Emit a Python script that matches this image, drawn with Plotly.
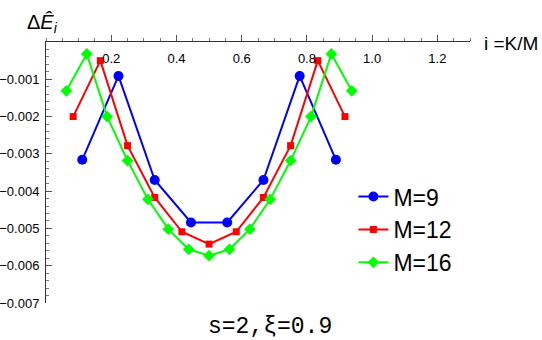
import plotly.graph_objects as go

# Data
x9 = [1/9, 2/9, 3/9, 4/9, 5/9, 6/9, 7/9, 8/9]
y9 = [-0.00316, -0.00091, -0.00370, -0.00484, -0.00484, -0.00370, -0.00091, -0.00316]

x12 = [k/12 for k in range(1, 12)]
y12 = [-0.00200, -0.00050, -0.00278, -0.00417, -0.00509, -0.00542,
       -0.00509, -0.00417, -0.00278, -0.00050, -0.00200]

x16 = [k/16 for k in range(1, 16)]
y16 = [-0.00131, -0.00032, -0.00200, -0.00318, -0.00422, -0.00502, -0.00556, -0.00573,
       -0.00556, -0.00502, -0.00422, -0.00318, -0.00200, -0.00032, -0.00131]

xtick_vals = [0.2, 0.4, 0.6, 0.8, 1.0, 1.2]
xtick_text = ["0.2", "0.4", "0.6", "0.8", "1.0", "1.2"]
ytick_vals = [-0.001, -0.002, -0.003, -0.004, -0.005, -0.006, -0.007]
ytick_text = ["−0.001", "−0.002", "−0.003", "−0.004", "−0.005", "−0.006", "−0.007"]

fig = go.Figure()
fig.add_trace(go.Scatter(x=x9, y=y9, mode="lines+markers", name="M=9",
                         line=dict(color="rgb(0,0,255)", width=2),
                         marker=dict(symbol="circle", size=10, color="rgb(0,0,255)")))
fig.add_trace(go.Scatter(x=x12, y=y12, mode="lines+markers", name="M=12",
                         line=dict(color="rgb(255,0,0)", width=2),
                         marker=dict(symbol="square", size=7, color="rgb(255,0,0)")))
fig.add_trace(go.Scatter(x=x16, y=y16, mode="lines+markers", name="M=16",
                         line=dict(color="rgb(0,255,0)", width=2),
                         marker=dict(symbol="diamond", size=9, color="rgb(0,255,0)")))
# carrier trace (no visible marks) so the label axis below the top line is drawn
fig.add_trace(go.Scatter(x=xtick_vals, y=[None] * len(xtick_vals), xaxis="x2", yaxis="y",
                         mode="markers", showlegend=False, hoverinfo="skip",
                         marker=dict(opacity=0)))

tickfont = dict(family="Liberation Sans", size=13, color="black")

fig.update_layout(
    width=542, height=340,
    margin=dict(l=46, r=72, t=42, b=37, autoexpand=False),
    paper_bgcolor="white", plot_bgcolor="white",
    font=dict(family="Liberation Sans", size=13, color="black"),
    showlegend=True,
    legend=dict(x=0.725, y=0.49, xanchor="left", yanchor="top",
                font=dict(size=23, family="Liberation Sans"),
                bgcolor="rgba(0,0,0,0)", tracegroupgap=0),
    xaxis=dict(range=[0, 1.3], side="top", showgrid=False, zeroline=False, automargin=False,
               showline=True, linecolor="#333", linewidth=1,
               tickmode="array", tickvals=xtick_vals, ticktext=xtick_text,
               showticklabels=False,
               ticks="outside", ticklen=6, tickcolor="#555",
               minor=dict(tickmode="linear", tick0=0, dtick=0.05, ticklen=3,
                          ticks="outside", tickcolor="#777", showgrid=False)),
    xaxis2=dict(range=[0, 1.3], matches="x", overlaying="x", anchor="free", position=1.0,
                side="bottom", showgrid=False, zeroline=False, showline=False, automargin=False,
                tickmode="array", tickvals=xtick_vals, ticktext=xtick_text,
                tickfont=tickfont, ticks="", ticklabelstandoff=7),
    yaxis=dict(range=[-0.007, 0], showgrid=False, zeroline=False, automargin=False,
               showline=True, linecolor="#333", linewidth=1,
               tickmode="array", tickvals=ytick_vals, ticktext=ytick_text,
               tickfont=tickfont, ticklabelstandoff=3,
               ticks="inside", ticklen=6, tickcolor="#555",
               minor=dict(tickmode="linear", tick0=0, dtick=0.0002, ticklen=3,
                          ticks="inside", tickcolor="#777", showgrid=False)),
)

pw = 542 - 46 - 72
ph = 340 - 42 - 37
def px(xp):
    return (xp - 46) / pw
def py(yp):
    return (340 - 37 - yp) / ph

fig.add_annotation(text="Δ<i>Ê</i><sub><i>i</i></sub>", x=px(25), y=py(23),
                   xref="paper", yref="paper", xanchor="left", yanchor="middle",
                   showarrow=False, font=dict(size=20))
fig.add_annotation(text="i =K/M", x=px(482), y=py(43), xref="paper", yref="paper",
                   xanchor="left", yanchor="middle",
                   showarrow=False, font=dict(size=19))
fig.add_annotation(text="s=2,ξ=0.9", x=px(270), y=py(327), xref="paper", yref="paper",
                   xanchor="center", yanchor="middle",
                   showarrow=False, font=dict(size=23, family="Liberation Mono"))

fig.write_html("out.html")
